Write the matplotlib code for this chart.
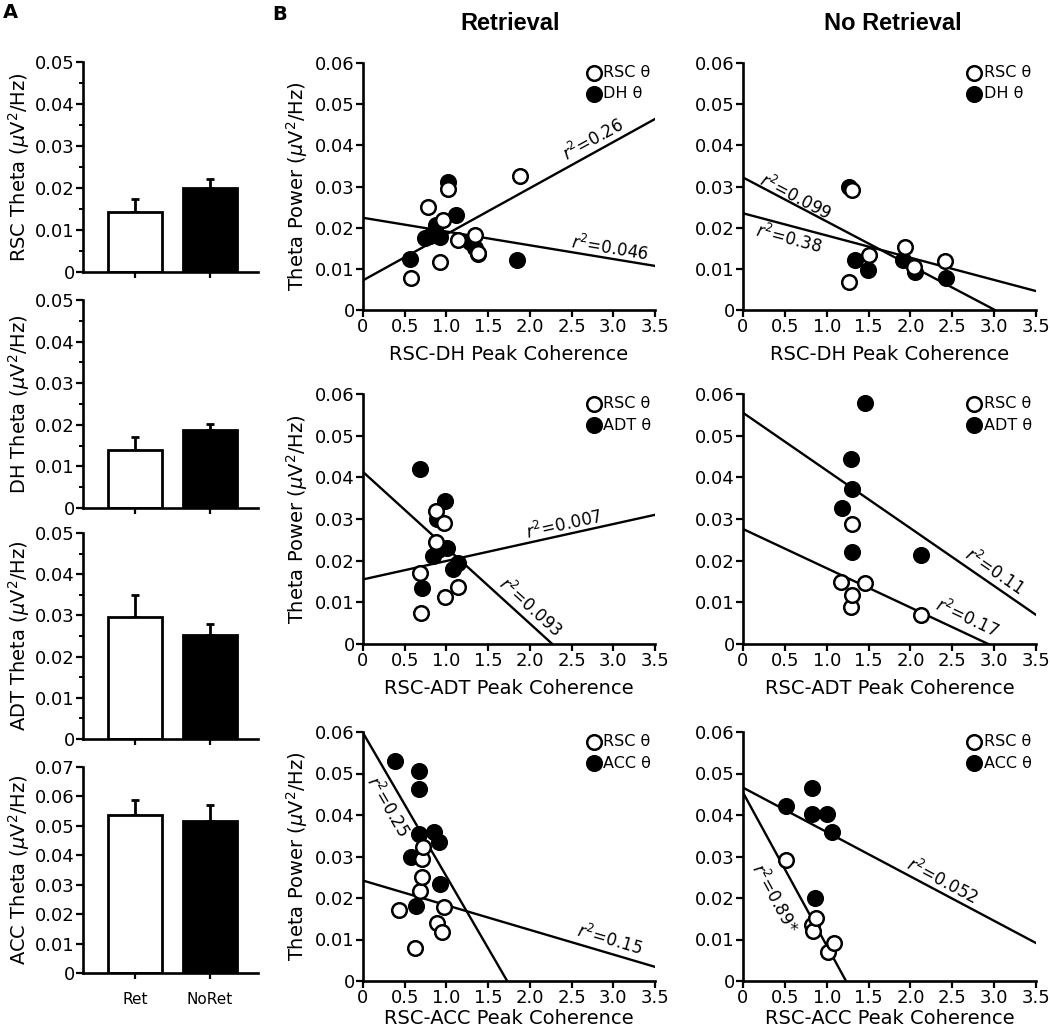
import numpy as np
import matplotlib
matplotlib.use("Agg")
import matplotlib.pyplot as plt
from matplotlib.ticker import FuncFormatter, MultipleLocator

plt.rcParams['font.family'] = ['DejaVu Sans']
plt.rcParams['mathtext.fontset'] = 'dejavusans'

# ---------------- Panel A data ----------------
bar_conditions = ['Ret', 'NoRet']
bar_regions = ['RSC', 'DH', 'ADT', 'ACC']
rsc_bar_mean = [0.0143, 0.0199]
rsc_bar_err = [0.0032, 0.0023]
dh_bar_mean = [0.0140, 0.0187]
dh_bar_err = [0.0031, 0.0014]
adt_bar_mean = [0.0297, 0.0253]
adt_bar_err = [0.0053, 0.0025]
acc_bar_mean = [0.0537, 0.0518]
acc_bar_err = [0.0050, 0.0052]
bar_ymax = [0.05, 0.05, 0.05, 0.07]

# ---------------- Panel B data ----------------
# Retrieval, RSC-DH
ret_dh_rsc_x = [0.58, 0.78, 0.92, 0.96, 1.02, 1.14, 1.34, 1.38, 1.88]
ret_dh_rsc_y = [0.0077, 0.0251, 0.0117, 0.0218, 0.0295, 0.0170, 0.0182, 0.0138, 0.0325]
ret_dh_reg_x = [0.56, 0.74, 0.80, 0.88, 0.92, 1.02, 1.12, 1.28, 1.34, 1.38, 1.84]
ret_dh_reg_y = [0.0125, 0.0174, 0.0180, 0.0206, 0.0178, 0.0311, 0.0230, 0.0166, 0.0150, 0.0137, 0.0121]
ret_dh_fit_b = [0.0072, 0.0224]
ret_dh_fit_m = [0.0112, -0.00334]
ret_dh_r2 = ['0.26', '0.046']

# No Retrieval, RSC-DH
noret_dh_rsc_x = [1.27, 1.30, 1.50, 1.93, 2.04, 2.41]
noret_dh_rsc_y = [0.0069, 0.0292, 0.0134, 0.0152, 0.0105, 0.0119]
noret_dh_reg_x = [1.27, 1.34, 1.49, 1.91, 2.06, 2.43]
noret_dh_reg_y = [0.0298, 0.0122, 0.0097, 0.0122, 0.0093, 0.0077]
noret_dh_fit_b = [0.0322, 0.0235]
noret_dh_fit_m = [-0.0107, -0.0054]
noret_dh_r2 = ['0.099', '0.38']

# Retrieval, RSC-ADT
ret_adt_rsc_x = [0.68, 0.70, 0.87, 0.88, 0.97, 0.98, 1.14]
ret_adt_rsc_y = [0.0170, 0.0074, 0.0246, 0.0320, 0.0291, 0.0114, 0.0136]
ret_adt_reg_x = [0.68, 0.71, 0.84, 0.89, 0.90, 0.98, 1.01, 1.08, 1.14]
ret_adt_reg_y = [0.0419, 0.0134, 0.0211, 0.0299, 0.0226, 0.0344, 0.0230, 0.0179, 0.0194]
ret_adt_fit_b = [0.0155, 0.0413]
ret_adt_fit_m = [0.00443, -0.0182]
ret_adt_r2 = ['0.007', '0.093']

# No Retrieval, RSC-ADT
noret_adt_rsc_x = [1.17, 1.29, 1.30, 1.30, 1.46, 2.13]
noret_adt_rsc_y = [0.0150, 0.0090, 0.0118, 0.0288, 0.0147, 0.0070]
noret_adt_reg_x = [1.18, 1.29, 1.30, 1.30, 1.46, 2.13]
noret_adt_reg_y = [0.0326, 0.0443, 0.0371, 0.0222, 0.0579, 0.0214]
noret_adt_fit_b = [0.0555, 0.0276]
noret_adt_fit_m = [-0.01386, -0.00942]
noret_adt_r2 = ['0.11', '0.17']

# Retrieval, RSC-ACC
ret_acc_rsc_x = [0.43, 0.62, 0.68, 0.71, 0.71, 0.72, 0.89, 0.95, 0.97]
ret_acc_rsc_y = [0.0171, 0.0079, 0.0217, 0.0250, 0.0294, 0.0324, 0.0139, 0.0117, 0.0179]
ret_acc_reg_x = [0.38, 0.58, 0.64, 0.67, 0.67, 0.67, 0.85, 0.91, 0.92]
ret_acc_reg_y = [0.0531, 0.0298, 0.0181, 0.0505, 0.0462, 0.0355, 0.0360, 0.0336, 0.0234]
ret_acc_fit_b = [0.0598, 0.0242]
ret_acc_fit_m = [-0.0346, -0.00594]
ret_acc_r2 = ['0.25', '0.15']

# No Retrieval, RSC-ACC
noret_acc_rsc_x = [0.51, 0.82, 0.84, 0.87, 1.01, 1.09]
noret_acc_rsc_y = [0.0292, 0.0134, 0.0120, 0.0151, 0.0071, 0.0091]
noret_acc_reg_x = [0.51, 0.82, 0.82, 0.86, 1.00, 1.06]
noret_acc_reg_y = [0.0422, 0.0465, 0.0403, 0.0201, 0.0403, 0.0358]
noret_acc_fit_b = [0.0466, 0.0454]
noret_acc_fit_m = [-0.0107, -0.0369]
noret_acc_r2 = ['0.052', '0.89*']

x_ticks = [0, 0.5, 1.0, 1.5, 2.0, 2.5, 3.0, 3.5]
y_ticks = [0, 0.01, 0.02, 0.03, 0.04, 0.05, 0.06]

# ---------------- Figure ----------------
W, H = 1050, 1032
fig = plt.figure(figsize=(W / 100, H / 100), dpi=100)


def rect(l, t, r, b):
    return [l / W, 1 - b / H, (r - l) / W, (b - t) / H]


SPW = 1.9
def yfmt(v, p):
    return '0' if abs(v) < 1e-12 else f'{v:.2f}'


def xfmt(v, p):
    return '0' if abs(v) < 1e-12 else f'{v:.1f}'


# ---- Panel A ----
bar_means = [rsc_bar_mean, dh_bar_mean, adt_bar_mean, acc_bar_mean]
bar_errs = [rsc_bar_err, dh_bar_err, adt_bar_err, acc_bar_err]
bar_rows = [(62, 272), (300, 508), (533, 739), (767, 973)]
xpos = np.arange(len(bar_conditions))
for i, (t, b) in enumerate(bar_rows):
    ax = fig.add_axes(rect(83, t, 258, b))
    ax.bar(xpos, bar_means[i], width=0.72, color=['white', 'black'],
           edgecolor='black', linewidth=2.0, zorder=2)
    ax.errorbar(xpos, bar_means[i], yerr=[[0, 0], bar_errs[i]], fmt='none',
                ecolor='black', elinewidth=2.0, capsize=3, capthick=2.0, zorder=1)
    ax.set_xlim(-0.693, 1.64)
    ax.set_ylim(0, bar_ymax[i])
    ax.yaxis.set_major_locator(MultipleLocator(0.01))
    if bar_ymax[i] <= 0.05:
        ax.yaxis.set_minor_locator(MultipleLocator(0.005))
    ax.yaxis.set_major_formatter(FuncFormatter(yfmt))
    for s in ['top', 'right']:
        ax.spines[s].set_visible(False)
    for s in ['left', 'bottom']:
        ax.spines[s].set_linewidth(SPW)
    ax.tick_params(axis='y', which='major', direction='out', length=5, width=1.6,
                   labelsize=13, pad=1)
    ax.tick_params(axis='y', which='minor', direction='out', length=3, width=1.4)
    ax.tick_params(axis='x', direction='out', length=4, width=1.6, labelsize=11, pad=10)
    ax.set_xticks(xpos)
    if i == len(bar_rows) - 1:
        ax.set_xticklabels(bar_conditions)
    else:
        ax.set_xticklabels([])
    ax.set_ylabel(bar_regions[i] + r' Theta ($\mu$V$^2$/Hz)', fontsize=14)
    ax.yaxis.set_label_coords(-0.29, 0.5)


# ---- Panel B ----
def scatter_panel(ax, rx, ry, gx, gy, reg, fb, fm, r2, lab_pos, xlabel, ylab, lpad):
    ax.set_xlim(0, 3.5)
    ax.set_ylim(0, 0.06)
    xx = np.array([0, 3.5])
    for b, m in zip(fb, fm):
        ax.plot(xx, b + m * xx, color='black', lw=1.7, zorder=1)
    ax.plot(gx, gy, 'o', ms=10.5, mfc='black', mec='black', mew=1.8, zorder=3, clip_on=False)
    ax.plot(rx, ry, 'o', ms=10.5, mfc='white', mec='black', mew=1.8, zorder=4, clip_on=False)
    for s in ['top', 'right']:
        ax.spines[s].set_visible(False)
    for s in ['left', 'bottom']:
        ax.spines[s].set_linewidth(SPW)
    ax.set_xticks(x_ticks)
    ax.set_yticks(y_ticks)
    ax.xaxis.set_major_formatter(FuncFormatter(xfmt))
    ax.yaxis.set_major_formatter(FuncFormatter(yfmt))
    ax.tick_params(direction='out', length=5, width=1.6, labelsize=13, pad=1)
    ax.set_xlabel(xlabel, fontsize=14, labelpad=lpad)
    if ylab:
        ax.set_ylabel(r'Theta Power ($\mu$V$^2$/Hz)', fontsize=14)
        ax.yaxis.set_label_coords(-0.18, 0.5)
    # legend
    ax.plot([0.79], [0.96], 'o', transform=ax.transAxes, ms=10.5, mfc='white',
            mec='black', mew=1.8, clip_on=False)
    ax.plot([0.79], [0.875], 'o', transform=ax.transAxes, ms=10.5, mfc='black',
            mec='black', mew=1.8, clip_on=False)
    ax.text(0.823, 0.96, 'RSC θ', transform=ax.transAxes, va='center', ha='left', fontsize=11.5)
    ax.text(0.823, 0.875, reg + ' θ', transform=ax.transAxes, va='center', ha='left', fontsize=11.5)
    # r^2 labels
    for (b, m), txt, (lx, ly) in zip(zip(fb, fm), r2, lab_pos):
        ang = np.degrees(np.arctan(m))
        rot = ax.transData.transform_angles(np.array([ang]), np.array([[lx, b + m * lx]]))[0]
        ax.text(lx, ly, r'$r^2$=' + txt, rotation=rot, rotation_mode='anchor',
                ha='center', va='center', fontsize=12)


cols = [(363, 655), (743, 1036)]
rows = [(63, 310), (394, 644), (732, 981)]

panels = [
    (0, 0, ret_dh_rsc_x, ret_dh_rsc_y, ret_dh_reg_x, ret_dh_reg_y, 'DH', ret_dh_fit_b, ret_dh_fit_m,
     ret_dh_r2, [(2.76, 0.0413), (2.96, 0.0150)], 'RSC-DH Peak Coherence'),
    (0, 1, noret_dh_rsc_x, noret_dh_rsc_y, noret_dh_reg_x, noret_dh_reg_y, 'DH', noret_dh_fit_b,
     noret_dh_fit_m, noret_dh_r2, [(0.62, 0.0275), (0.55, 0.0174)], 'RSC-DH Peak Coherence'),
    (1, 0, ret_adt_rsc_x, ret_adt_rsc_y, ret_adt_reg_x, ret_adt_reg_y, 'ADT', ret_adt_fit_b,
     ret_adt_fit_m, ret_adt_r2, [(2.41, 0.0286), (2.01, 0.0089)], 'RSC-ADT Peak Coherence'),
    (1, 1, noret_adt_rsc_x, noret_adt_rsc_y, noret_adt_reg_x, noret_adt_reg_y, 'ADT', noret_adt_fit_b,
     noret_adt_fit_m, noret_adt_r2, [(3.0, 0.0174), (2.67, 0.0062)], 'RSC-ADT Peak Coherence'),
    (2, 0, ret_acc_rsc_x, ret_acc_rsc_y, ret_acc_reg_x, ret_acc_reg_y, 'ACC', ret_acc_fit_b,
     ret_acc_fit_m, ret_acc_r2, [(0.29, 0.042), (2.95, 0.0099)], 'RSC-ACC Peak Coherence'),
    (2, 1, noret_acc_rsc_x, noret_acc_rsc_y, noret_acc_reg_x, noret_acc_reg_y, 'ACC', noret_acc_fit_b,
     noret_acc_fit_m, noret_acc_r2, [(2.38, 0.024), (0.376, 0.020)], 'RSC-ACC Peak Coherence'),
]

for (r, c, rx, ry, gx, gy, reg, fb, fm, r2, lp, xl) in panels:
    (l, rr), (t, b) = cols[c], rows[r]
    ax = fig.add_axes(rect(l, t, rr, b))
    scatter_panel(ax, rx, ry, gx, gy, reg, fb, fm, r2, lp, xl, c == 0, 1 if r == 2 else 6)

# titles & panel letters
tfam = ['Liberation Sans', 'DejaVu Sans']
fig.text(510 / W, 1 - 23 / H, 'Retrieval', ha='center', va='center', fontsize=17,
         fontweight='bold', family=tfam)
fig.text(893 / W, 1 - 23 / H, 'No Retrieval', ha='center', va='center', fontsize=17,
         fontweight='bold', family=tfam)
fig.text(3 / W, 1 - 13 / H, 'A', ha='left', va='center', fontsize=14, fontweight='bold')
fig.text(272 / W, 1 - 14 / H, 'B', ha='left', va='center', fontsize=14, fontweight='bold')

fig.savefig('out.png', dpi=100)
